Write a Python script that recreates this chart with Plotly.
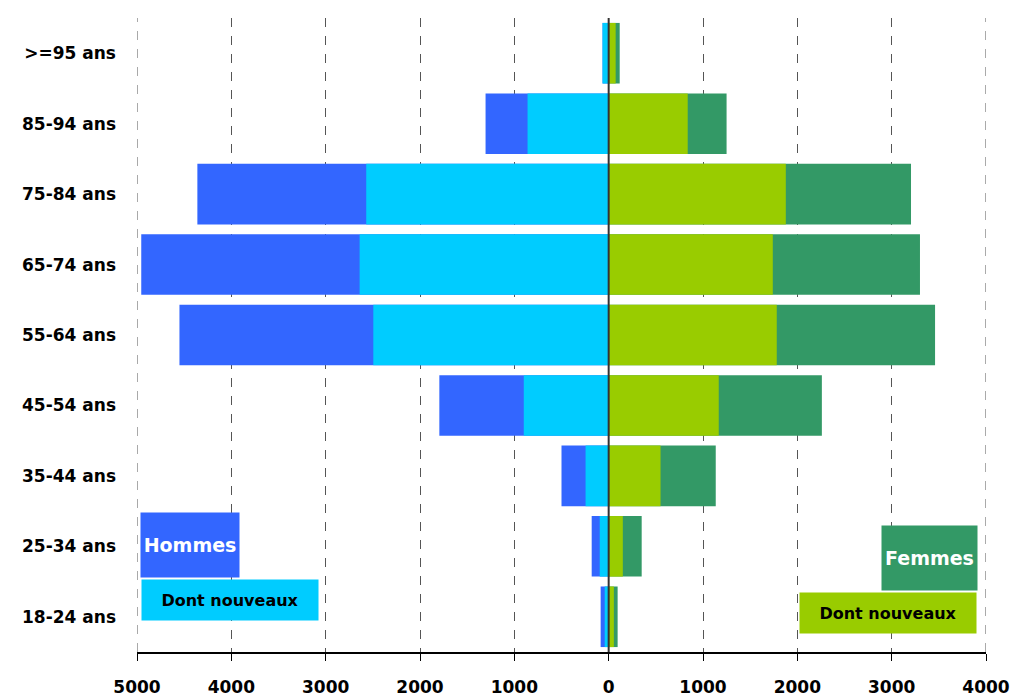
import plotly.graph_objects as go

categories = ["18-24 ans", "25-34 ans", "35-44 ans", "45-54 ans", "55-64 ans",
              "65-74 ans", "75-84 ans", "85-94 ans", ">=95 ans"]
hommes_total = [85, 180, 500, 1795, 4550, 4955, 4360, 1305, 65]
hommes_nouveaux = [42, 95, 245, 900, 2495, 2640, 2570, 860, 65]
femmes_total = [95, 350, 1135, 2260, 3460, 3300, 3205, 1250, 117]
femmes_nouveaux = [55, 150, 550, 1167, 1782, 1740, 1878, 838, 74]
tick_vals = [-5000, -4000, -3000, -2000, -1000, 0, 1000, 2000, 3000, 4000]
tick_text = ["5000", "4000", "3000", "2000", "1000", "0", "1000", "2000", "3000", "4000"]

FONT = "Comic Sans MS, DejaVu Sans, sans-serif"
C_H = "#3366FF"
C_HN = "#00CCFF"
C_F = "#339966"
C_FN = "#99CC00"
GRID = "#555555"

fig = go.Figure()
fig.add_bar(y=categories, x=[-v for v in hommes_total], orientation="h",
            marker=dict(color=C_H, line=dict(width=0)), name="Hommes")
fig.add_bar(y=categories, x=[-v for v in hommes_nouveaux], orientation="h",
            marker=dict(color=C_HN, line=dict(width=0)), name="Hommes - Dont nouveaux")
fig.add_bar(y=categories, x=femmes_total, orientation="h",
            marker=dict(color=C_F, line=dict(width=0)), name="Femmes")
fig.add_bar(y=categories, x=femmes_nouveaux, orientation="h",
            marker=dict(color=C_FN, line=dict(width=0)), name="Femmes - Dont nouveaux")

# edge gridlines (plotly omits gridlines at range boundaries)
for xv in (tick_vals[0], tick_vals[-1]):
    fig.add_shape(type="line", xref="x", yref="paper", x0=xv, x1=xv, y0=0, y1=1,
                  line=dict(color=GRID, width=1, dash="dash"), layer="below")

fig.add_shape(type="line", xref="x", yref="paper", x0=0, x1=0, y0=0, y1=1,
              line=dict(color="#333333", width=2), layer="above")

ann_common = dict(xref="paper", yref="paper", showarrow=False, borderpad=0,
                  xanchor="center", yanchor="middle")
fig.add_annotation(text="<b>Hommes</b>", x=0.0624, y=0.1688, width=98, height=64,
                   bgcolor=C_H, font=dict(family=FONT, size=19, color="white"), **ann_common)
fig.add_annotation(text="<b>Dont nouveaux</b>", x=0.1095, y=0.0820, width=176, height=40,
                   bgcolor=C_HN, font=dict(family=FONT, size=16, color="black"), **ann_common)
fig.add_annotation(text="<b>Femmes</b>", x=0.9335, y=0.1483, width=95, height=64,
                   bgcolor=C_F, font=dict(family=FONT, size=19, color="white"), **ann_common)
fig.add_annotation(text="<b>Dont nouveaux</b>", x=0.8846, y=0.0615, width=176, height=40,
                   bgcolor=C_FN, font=dict(family=FONT, size=16, color="black"), **ann_common)

fig.update_layout(
    width=1013, height=697,
    barmode="overlay", bargap=0.14,
    showlegend=False,
    plot_bgcolor="white", paper_bgcolor="white",
    margin=dict(l=137, r=27, t=18, b=45, autoexpand=False),
    font=dict(family=FONT, size=16, color="black"),
    xaxis=dict(range=[-5000, 4000], tickvals=tick_vals, ticktext=tick_text,
               automargin=False,
               showgrid=True, gridcolor=GRID, griddash="dash", gridwidth=1,
               zeroline=False, showline=True, linecolor="black", linewidth=1.5,
               ticks="outside", ticklen=7, tickcolor="black",
               ticklabelstandoff=12,
               tickfont=dict(family=FONT, size=17, color="black", weight="bold")),
    yaxis=dict(range=[-0.5, 8.5], showgrid=False, zeroline=False, showline=False,
               automargin=False,
               ticks="", ticklabelstandoff=20,
               tickfont=dict(family=FONT, size=17, color="black", weight="bold")),
)

fig.write_html("out.html", config={"displayModeBar": False},
               post_script="document.body.style.margin='0px';document.body.style.overflow='hidden';")
